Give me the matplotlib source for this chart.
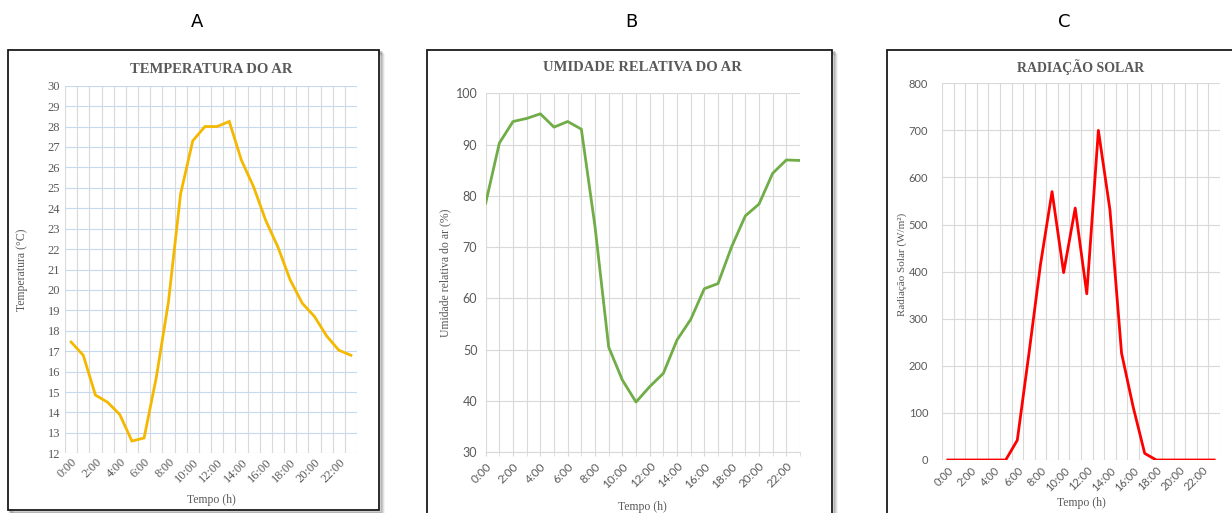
"""Daily cycles of air temperature, relative humidity and solar radiation."""

import matplotlib

matplotlib.use("Agg")
import matplotlib.pyplot as plt
import numpy as np
from matplotlib.patches import Rectangle

hours = list(range(24))
hour_labels = [f"{h}:00" for h in range(0, 24, 2)]

temperature = [17.45, 16.8, 14.85, 14.5, 13.9, 12.6, 12.75, 15.7, 19.4, 24.7,
               27.3, 28.0, 28.0, 28.25, 26.35, 25.05, 23.4, 22.1, 20.5, 19.35,
               18.7, 17.75, 17.05, 16.8]
humidity = [78.6, 90.3, 94.5, 95.1, 96.0, 93.4, 94.5, 93.0, 74.0, 50.5,
            44.1, 39.8, 42.8, 45.4, 51.9, 55.9, 61.9, 62.9, 70.1, 76.1,
            78.4, 84.4, 87.0, 86.9]
radiation = [0, 0, 0, 0, 0, 0, 42, 225, 415, 570, 398, 535, 353, 700, 531,
             227, 113, 14, 0, 0, 0, 0, 0, 0]

W, H = 1232, 513
GREY_TEXT = "#595959"
GRID = "#d9d9d9"
SERIF = "Liberation Serif"
SANS = "Lato"


def px_rect(left, top, right, bottom):
    return [left / W, 1 - bottom / H, (right - left) / W, (bottom - top) / H]


def draw_frame(fig, left, top, right, bottom):
    # soft shadow to the right and below, then the black box
    for i, alpha in enumerate([0.18, 0.12, 0.07, 0.04]):
        off = i + 1.5
        fig.patches.append(Rectangle(
            ((left + off) / W, 1 - (bottom + off) / H),
            (right - left) / W, (bottom - top) / H,
            transform=fig.transFigure, facecolor="none",
            edgecolor=(0, 0, 0, alpha), linewidth=1.6, zorder=-2))
    fig.patches.append(Rectangle(
        (left / W, 1 - bottom / H), (right - left) / W, (bottom - top) / H,
        transform=fig.transFigure, facecolor="white", edgecolor="#1a1a1a",
        linewidth=1.3, zorder=-1))


def style_axis(axis, tick_font, size=8.5):
    for spine in axis.spines.values():
        spine.set_visible(False)
    axis.set_facecolor("none")
    axis.tick_params(axis="both", which="both", length=0, colors=GREY_TEXT)
    for label in axis.get_yticklabels() + axis.get_xticklabels():
        label.set_family(tick_font)
        label.set_fontsize(size)
        label.set_color(GREY_TEXT)
    for label in axis.get_xticklabels():
        label.set_rotation(45)
        label.set_ha("right")
        label.set_rotation_mode("anchor")


figure = plt.figure(figsize=(W / 100, H / 100), dpi=100)
figure.patch.set_facecolor("white")

draw_frame(figure, 8, 50, 379, 510)
draw_frame(figure, 427, 50, 832, 530)
draw_frame(figure, 887, 50, 1260, 530)

for text, x in [("A", 197), ("B", 631), ("C", 1064)]:
    figure.text(x / W, 1 - 22 / H, text, ha="center", va="center",
                fontsize=13, family="DejaVu Sans", color="black")

# A: air temperature
ax_a = figure.add_axes(px_rect(65, 85.7, 357, 453.3))
ax_a.plot(hours, temperature, color="#F5B800", linewidth=2.0,
          solid_joinstyle="miter", zorder=3)
ax_a.set_xlim(-0.5, 23.5)
ax_a.set_ylim(12, 30)
ax_a.set_yticks(np.arange(12, 31, 1))
ax_a.set_xticks(range(0, 24, 2))
ax_a.set_xticklabels(hour_labels)
ax_a.set_xticks(np.arange(-0.5, 24, 1), minor=True)
ax_a.grid(which="minor", axis="x", color=GRID, linewidth=0.8)
ax_a.grid(which="major", axis="y", color="#c6d9ee", linewidth=0.8)
style_axis(ax_a, SERIF, 9)
ax_a.tick_params(axis="x", pad=2)
ax_a.set_title("TEMPERATURA DO AR", family=SERIF, fontweight="bold",
               fontsize=10.5, color=GREY_TEXT, pad=9)
ax_a.set_ylabel("Temperatura (°C)", family=SERIF, fontsize=8.5,
                color=GREY_TEXT)
ax_a.yaxis.set_label_coords(-0.128, 0.5)
ax_a.set_xlabel("Tempo (h)", family=SERIF, fontsize=8.5, color=GREY_TEXT,
                labelpad=7)

# B: relative humidity
ax_b = figure.add_axes(px_rect(485.7, 93.3, 800, 452.3))
ax_b.plot(hours, humidity, color="#70AD47", linewidth=2.0, zorder=3)
ax_b.set_xlim(0, 23)
ax_b.set_ylim(30, 100)
ax_b.set_yticks(np.arange(30, 101, 10))
ax_b.set_xticks(range(0, 24, 2))
ax_b.set_xticklabels(hour_labels)
ax_b.set_xticks(range(1, 24, 2), minor=True)
ax_b.grid(which="both", axis="x", color=GRID, linewidth=0.8)
ax_b.grid(which="major", axis="y", color=GRID, linewidth=0.8)
style_axis(ax_b, SANS, 8.5)
ax_b.spines["bottom"].set_visible(True)
ax_b.spines["bottom"].set_color(GRID)
ax_b.tick_params(axis="x", which="both", length=3, color=GRID, pad=3)
ax_b.tick_params(axis="y", pad=6)
for label in ax_b.get_yticklabels():
    label.set_fontsize(9)
ax_b.set_title("UMIDADE RELATIVA DO AR", family=SERIF, fontweight="bold",
               fontsize=10.5, color=GREY_TEXT, pad=16)
ax_b.set_ylabel("Umidade relativa do ar (%)", family=SERIF, fontsize=8.5,
                color=GREY_TEXT)
ax_b.yaxis.set_label_coords(-0.108, 0.5)
ax_b.set_xlabel("Tempo (h)", family=SERIF, fontsize=8.5, color=GREY_TEXT,
                labelpad=8)

# C: solar radiation
ax_c = figure.add_axes(px_rect(942, 83.3, 1220, 460))
ax_c.plot(hours, radiation, color="#FF0000", linewidth=2.0, zorder=3)
ax_c.set_xlim(-0.5, 23.5)
ax_c.set_ylim(0, 800)
ax_c.set_yticks(np.arange(0, 801, 100))
ax_c.set_xticks(range(0, 24, 2))
ax_c.set_xticklabels(hour_labels)
ax_c.set_xticks(np.arange(-0.5, 24, 1), minor=True)
ax_c.grid(which="minor", axis="x", color=GRID, linewidth=0.8)
ax_c.grid(which="major", axis="y", color=GRID, linewidth=0.8)
style_axis(ax_c, SANS, 8)
ax_c.tick_params(axis="y", pad=10)
ax_c.set_title("RADIAÇÃO SOLAR", family=SERIF, fontweight="bold",
               fontsize=10, color=GREY_TEXT, pad=8)
ax_c.set_ylabel("Radiação Solar (W/m²)", family=SERIF, fontsize=8,
                color=GREY_TEXT)
ax_c.yaxis.set_label_coords(-0.127, 0.52)
ax_c.set_xlabel("Tempo (h)", family=SERIF, fontsize=8.5, color=GREY_TEXT,
                labelpad=3)

figure.savefig("out.png", dpi=100)
plt.close(figure)
